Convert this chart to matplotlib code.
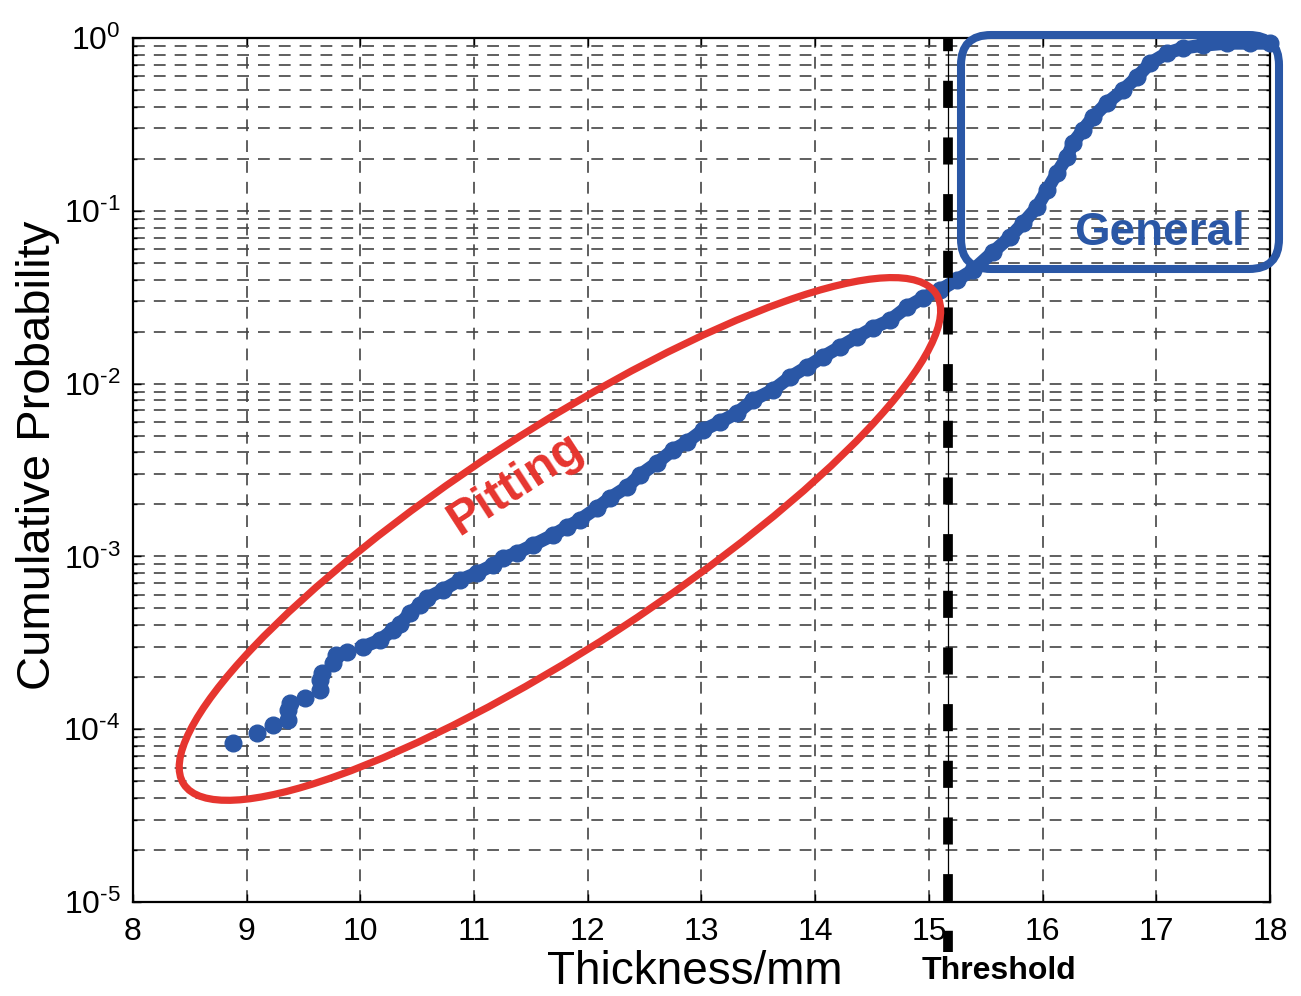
import numpy as np
import matplotlib
matplotlib.use("Agg")
import matplotlib.pyplot as plt
from matplotlib.patches import Ellipse, FancyBboxPatch
from matplotlib.transforms import ScaledTranslation
from matplotlib.ticker import LogLocator, NullFormatter, FixedLocator, FuncFormatter

plt.rcParams['font.family'] = ['Liberation Sans', 'DejaVu Sans']
plt.rcParams['mathtext.fontset'] = 'custom'
plt.rcParams['mathtext.rm'] = 'Liberation Sans'
plt.rcParams['mathtext.it'] = 'Liberation Sans:italic'
plt.rcParams['mathtext.bf'] = 'Liberation Sans:bold'
plt.rcParams['axes.unicode_minus'] = False
plt.rcParams['lines.scale_dashes'] = False

# thickness readings (mm) and their cumulative probability
thickness = [8.880, 9.091, 9.231, 9.363, 9.363, 9.381, 9.513, 9.645, 9.645, 9.662,
             9.759, 9.785, 9.882, 10.023, 10.172, 10.287, 10.348, 10.436, 10.524, 10.586,
             10.726, 10.876, 11.026, 11.166, 11.254, 11.377, 11.518, 11.694, 11.817, 11.931,
             12.081, 12.195, 12.345, 12.459, 12.609, 12.749, 12.872, 13.013, 13.163, 13.312,
             13.453, 13.629, 13.778, 13.928, 14.069, 14.218, 14.368, 14.508, 14.658, 14.807,
             14.948, 15.098, 15.247, 15.388, 15.564, 15.713, 15.828, 15.951, 16.039, 16.127,
             16.215, 16.267, 16.355, 16.443, 16.566, 16.707, 16.830, 16.945, 17.094, 17.235,
             17.411, 17.622, 17.824, 18.000]
cum_prob = [8.32e-5, 9.51e-5, 1.057e-4, 1.13e-4, 1.29e-4, 1.42e-4, 1.52e-4, 1.69e-4, 1.93e-4, 2.11e-4,
            2.42e-4, 2.69e-4, 2.80e-4, 2.99e-4, 3.28e-4, 3.75e-4, 4.06e-4, 4.70e-4, 5.24e-4, 5.74e-4,
            6.40e-4, 7.29e-4, 8.02e-4, 8.91e-4, 9.79e-4, 1.047e-3, 1.164e-3, 1.33e-3, 1.48e-3, 1.63e-3,
            1.91e-3, 2.18e-3, 2.52e-3, 2.96e-3, 3.48e-3, 4.13e-3, 4.59e-3, 5.38e-3, 6.00e-3, 6.76e-3,
            8.04e-3, 9.18e-3, 1.09e-2, 1.25e-2, 1.43e-2, 1.63e-2, 1.86e-2, 2.10e-2, 2.33e-2, 2.77e-2,
            3.13e-2, 3.48e-2, 3.98e-2, 4.54e-2, 5.78e-2, 7.05e-2, 8.49e-2, 0.105, 0.132, 0.166,
            0.205, 0.247, 0.294, 0.349, 0.421, 0.500, 0.594, 0.716, 0.818, 0.875,
            0.910, 0.935, 0.935, 0.935]

threshold = 15.17
x_ticks = [8, 9, 10, 11, 12, 13, 14, 15, 16, 17, 18]

blue = '#2a57a6'
red = '#e6352f'


def pow10_label(val, pos):
    n = int(round(np.log10(val)))
    if n < 0:
        return r'$\mathdefault{10^{\text{-}%d}}$' % (-n)
    return r'$\mathdefault{10^{%d}}$' % n


fig = plt.figure(figsize=(13.01, 9.96), dpi=100)
ax = fig.add_axes([0.1022, 0.0944, 0.8740, 0.8674])
ax.set_yscale('log')
ax.set_xlim(8, 18)
ax.set_ylim(1e-5, 1)

ax.xaxis.set_major_locator(FixedLocator(x_ticks))
ax.yaxis.set_major_locator(LogLocator(base=10, numticks=10))
ax.yaxis.set_major_formatter(FuncFormatter(pow10_label))
ax.yaxis.set_minor_locator(LogLocator(base=10, subs=range(2, 10), numticks=20))
ax.yaxis.set_minor_formatter(NullFormatter())

grid_kw = dict(color='#444444', linewidth=1.2, linestyle=(0, (8.5, 6.5)))
ax.grid(True, which='major', axis='both', **grid_kw)
ax.grid(True, which='minor', axis='y', **grid_kw)
ax.set_axisbelow(True)

ax.tick_params(which='both', direction='in', top=True, right=True,
               labelsize=23, width=1.0, color='black')
ax.tick_params(which='major', length=6, pad=11)
ax.tick_params(which='minor', length=3)
ax.tick_params(axis='y', pad=9)
for s in ax.spines.values():
    s.set_linewidth(1.6)

# threshold marker: thin solid line plus heavy dashes running past the axis
xt = ax.get_xaxis_transform()
ax.plot([threshold, threshold], [0, 1], transform=xt, color='black', lw=0.9, zorder=4)
ax.plot([threshold, threshold], [1, -0.058], transform=xt, color='black', lw=7,
        linestyle=(10, (19.5, 21.3)), solid_capstyle='butt', dash_capstyle='butt',
        clip_on=False, zorder=5)

# the measured points
ax.plot(thickness[13:], cum_prob[13:], color=blue, lw=9.5, zorder=3)
ax.plot(thickness, cum_prob, 'o', color=blue, ms=12, mec=blue, zorder=3, clip_on=False)

# pitting region outline
ell_at = fig.dpi_scale_trans + ScaledTranslation(11.755, 10 ** -2.899, ax.transData)
ax.add_patch(Ellipse((0, 0), 8.98, 2.16, angle=33.1, transform=ell_at,
                     fill=False, edgecolor=red, lw=5.2, clip_on=False, zorder=6))
ax.text(11.37, 10 ** -2.58, 'Pitting', color=red, fontsize=35, fontweight='bold',
        rotation=33, ha='center', va='center', rotation_mode='anchor', zorder=7)

# general corrosion region outline
box = FancyBboxPatch((9.61, 7.27), 3.18, 2.34,
                     boxstyle='round,pad=0,rounding_size=0.3',
                     transform=fig.dpi_scale_trans, fill=False,
                     edgecolor=blue, lw=5.8, clip_on=False, zorder=6)
fig.patches.append(box)
fig.text(11.60 / 13.01, 1 - 2.33 / 9.96, 'General', color=blue, fontsize=33,
         fontweight='bold', ha='center', va='center')

ax.set_xlabel('Thickness/mm', fontsize=33)
ax.xaxis.set_label_coords(0.494, -0.056)
ax.xaxis.label.set_va('top')
ax.set_ylabel('Cumulative Probability', fontsize=34)
ax.yaxis.set_label_coords(-0.064, 0.517)

fig.text(9.99 / 13.01, 1 - 9.71 / 9.96, 'Threshold', fontsize=23, fontweight='bold',
         ha='center', va='center')

fig.savefig('out.png', dpi=100)
